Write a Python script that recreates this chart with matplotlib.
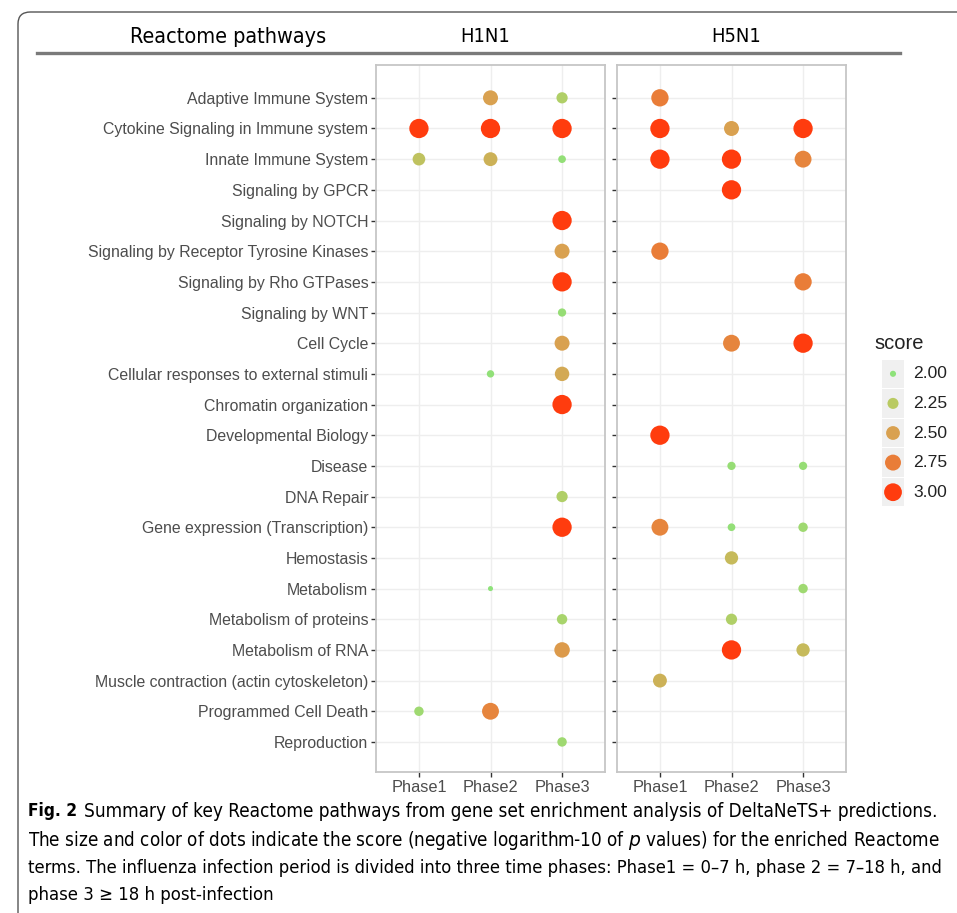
import matplotlib.pyplot as plt
import numpy as np
from matplotlib import font_manager as fm
from matplotlib.colors import LinearSegmentedColormap, Normalize
from matplotlib.patches import FancyBboxPatch, Rectangle

pathways = [
    "Adaptive Immune System",
    "Cytokine Signaling in Immune system",
    "Innate Immune System",
    "Signaling by GPCR",
    "Signaling by NOTCH",
    "Signaling by Receptor Tyrosine Kinases",
    "Signaling by Rho GTPases",
    "Signaling by WNT",
    "Cell Cycle",
    "Cellular responses to external stimuli",
    "Chromatin organization",
    "Developmental Biology",
    "Disease",
    "DNA Repair",
    "Gene expression (Transcription)",
    "Hemostasis",
    "Metabolism",
    "Metabolism of proteins",
    "Metabolism of RNA",
    "Muscle contraction (actin cytoskeleton)",
    "Programmed Cell Death",
    "Reproduction",
]
phases = ["Phase1", "Phase2", "Phase3"]

# H1N1: pathway index, phase index, score
h1n1_row = [0, 0, 1, 1, 1, 2, 2, 2, 4, 5, 6, 7, 8, 9, 9, 10, 13, 14, 16, 17, 18, 20, 20, 21]
h1n1_col = [1, 2, 0, 1, 2, 0, 1, 2, 2, 2, 2, 2, 2, 1, 2, 2, 2, 2, 1, 2, 2, 0, 1, 2]
h1n1_score = [2.5, 2.2, 3.0, 3.0, 3.0, 2.3, 2.4, 2.03, 3.0, 2.5, 3.0, 2.05, 2.5, 2.02, 2.45,
              3.0, 2.2, 3.0, 1.975, 2.15, 2.55, 2.1, 2.7, 2.1]

# H5N1
h5n1_row = [0, 1, 1, 1, 2, 2, 2, 3, 5, 6, 8, 8, 11, 12, 12, 14, 14, 14, 15, 16, 17, 18, 18, 19]
h5n1_col = [0, 0, 1, 2, 0, 1, 2, 1, 0, 2, 1, 2, 0, 1, 2, 0, 1, 2, 1, 2, 1, 1, 2, 0]
h5n1_score = [2.75, 3.0, 2.5, 3.0, 3.0, 3.0, 2.7, 3.0, 2.75, 2.75, 2.7, 3.0, 3.0, 2.05, 2.05,
              2.7, 2.03, 2.1, 2.35, 2.1, 2.2, 3.0, 2.35, 2.4]

legend_scores = [2.00, 2.25, 2.50, 2.75, 3.00]

cmap = LinearSegmentedColormap.from_list(
    "score", ["#8ee27a", "#b9ca62", "#d9a150", "#e97e38", "#ff3c0e"])
norm = Normalize(2.0, 3.0, clip=True)


def marker_area(v):
    v = np.asarray(v, dtype=float)
    frac = np.clip((v - 1.97) / (3.0 - 1.97), 0, 1)
    diam_px = 4.0 + 15.3 * np.sqrt(frac)
    return (diam_px * 0.72) ** 2


# narrow font for header / caption, if there is one
cond_path = fm.findfont(fm.FontProperties(family="DejaVu Sans", stretch="condensed"))
cond_bold = fm.findfont(fm.FontProperties(family="DejaVu Sans", stretch="condensed",
                                          weight="bold"))
if "Condensed" in cond_path:
    narrow = dict(fontproperties=fm.FontProperties(fname=cond_path))
    narrow_bold = dict(fontproperties=fm.FontProperties(fname=cond_bold))
else:
    narrow = dict(family=["Liberation Sans", "DejaVu Sans"])
    narrow_bold = dict(family=["Liberation Sans", "DejaVu Sans"], weight="bold")

W, H = 957, 913
fig = plt.figure(figsize=(W / 100, H / 100), dpi=100)
renderer = fig.canvas.get_renderer()


def fig_rect(x0, y0, x1, y1):
    return [x0 / W, 1 - y1 / H, (x1 - x0) / W, (y1 - y0) / H]


def fitted(x, y, s, width, size, **kw):
    t = fig.text(x / W, 1 - y / H, s, va="center", **kw)
    t.set_fontsize(size)
    w = t.get_window_extent(renderer).width
    t.set_fontsize(size * width / w)
    return t


# outer rounded frame
frame = FancyBboxPatch((18 / W, -0.05), 1.2, (H - 12) / H + 0.05,
                       boxstyle="round,pad=0,rounding_size=0.013",
                       transform=fig.transFigure, fill=False,
                       edgecolor="#555555", linewidth=1.0, clip_on=False)
fig.patches.append(frame)

fitted(228, 37, "Reactome pathways", 197, 15, ha="center", **narrow)
fitted(485, 37, "H1N1", 50, 15, ha="center", **narrow)
fitted(736, 37, "H5N1", 50, 15, ha="center", **narrow)
fig.add_artist(plt.Line2D([37 / W, 900 / W], [1 - 53 / H, 1 - 53 / H],
                          transform=fig.transFigure, color="#7a7a7a", linewidth=2.4))

tick_font = ["Liberation Sans", "DejaVu Sans"]
ax1 = fig.add_axes(fig_rect(376, 65, 605, 772))
ax2 = fig.add_axes(fig_rect(617, 65, 846, 772))

y_pos = np.arange(len(pathways))
for ax, rows, cols, scores in [(ax1, h1n1_row, h1n1_col, h1n1_score),
                               (ax2, h5n1_row, h5n1_col, h5n1_score)]:
    ax.set_xlim(-0.6, 2.6)
    ax.set_ylim(21 + 0.98, -1.07)
    ax.set_xticks(range(len(phases)))
    ax.set_xticklabels(phases)
    ax.set_yticks(y_pos)
    ax.grid(True, color="#eeeeee", linewidth=1.0)
    ax.set_axisbelow(True)
    for s in ax.spines.values():
        s.set_color("#c6c6c6")
        s.set_linewidth(1.3)
    ax.tick_params(length=3.5, width=1.0, color="#333333", labelcolor="#4d4d4d",
                   labelsize=11.4, pad=2)
    for lab in ax.get_xticklabels() + ax.get_yticklabels():
        lab.set_family(tick_font)
    ax.scatter(cols, rows, s=marker_area(scores), c=scores, cmap=cmap, norm=norm,
               edgecolors="none", zorder=3)

ax1.set_yticklabels(pathways)
ax2.set_yticklabels([])
ax1.tick_params(axis="x", labelsize=11.8)
ax2.tick_params(axis="x", labelsize=11.8)

# legend
fig.text(874 / W, 1 - 343 / H, "score", ha="left", va="center", fontsize=14.5,
         family=tick_font, color="#222222")
lax = fig.add_axes(fig_rect(882, 359, 904, 507))
lax.set_xlim(0, 1)
lax.set_ylim(len(legend_scores) - 0.5, -0.5)
lax.axis("off")
for i, v in enumerate(legend_scores):
    lax.add_patch(Rectangle((0, i - 0.48), 1, 0.96, facecolor="#f0f0f0", edgecolor="none"))
    lax.text(1.42, i, f"{v:.2f}", ha="left", va="center", fontsize=12.6,
             family=tick_font, color="#222222")
lax.scatter(np.full(len(legend_scores), 0.5), np.arange(len(legend_scores)),
            s=marker_area(legend_scores) * 0.85, c=legend_scores, cmap=cmap, norm=norm,
            edgecolors="none", zorder=3, clip_on=False)

# caption
fig.text(28 / W, 1 - 811 / H, "Fig. 2", fontsize=12.4, va="center", ha="left", **narrow_bold)
fitted(84, 811, "Summary of key Reactome pathways from gene set enrichment analysis "
       "of DeltaNeTS+ predictions.", 854, 12, ha="left", **narrow)
fitted(28, 840, "The size and color of dots indicate the score "
       "(negative logarithm-10 of $\\it{p}$ values) for the enriched Reactome",
       912, 12, ha="left", **narrow)
fitted(28, 868, "terms. The influenza infection period is divided into three time phases: "
       "Phase1 = 0–7 h, phase 2 = 7–18 h, and", 915, 12, ha="left", **narrow)
fitted(28, 895, "phase 3 ≥ 18 h post-infection", 246, 12, ha="left", **narrow)

fig.savefig("out.png", dpi=100)
